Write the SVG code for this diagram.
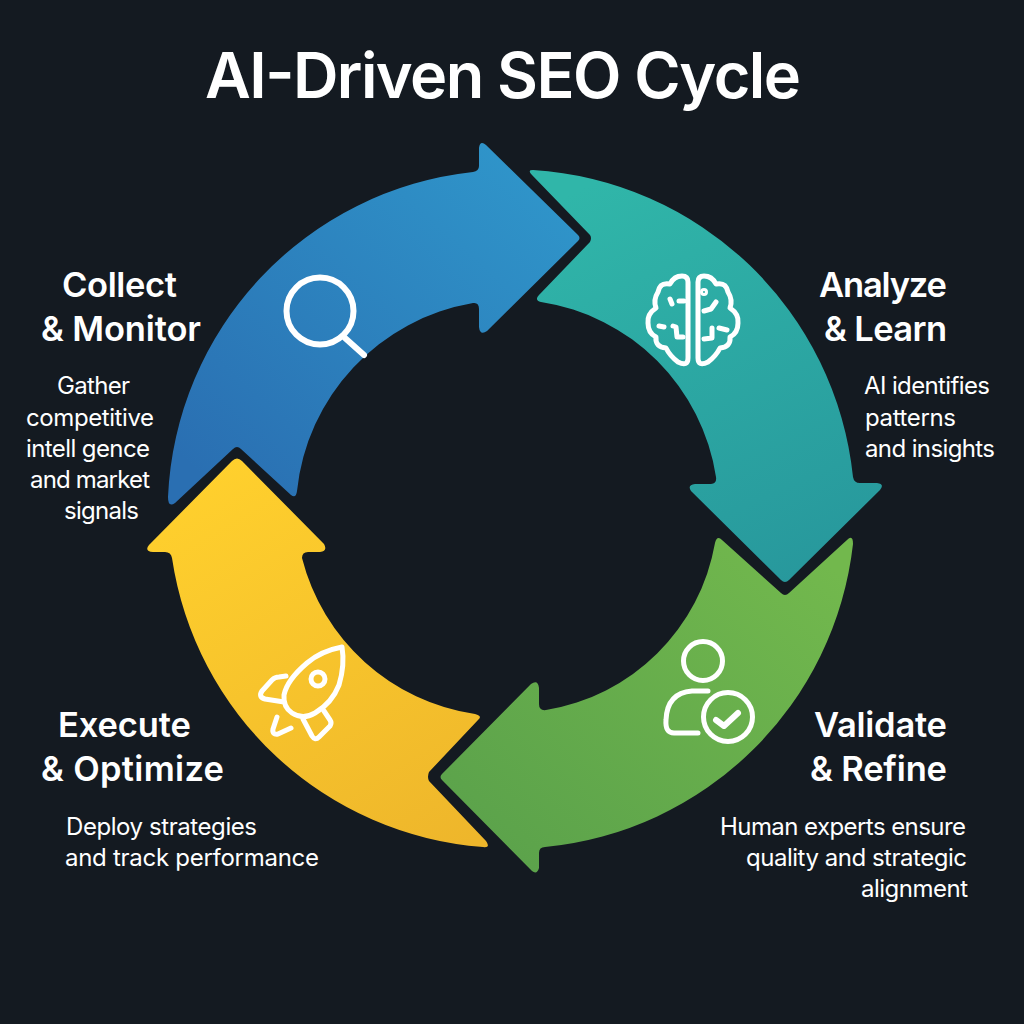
<svg xmlns="http://www.w3.org/2000/svg" width="1024" height="1024" viewBox="0 0 1024 1024">
<style>
.t{font-family:"Inter","Liberation Sans",sans-serif;fill:#fff}
.title{font-size:63px;font-weight:600}
.h{font-size:34.5px;font-weight:600}
.d{font-size:24px;font-weight:400}
.i{fill:none;stroke:#fff;stroke-width:5;stroke-linecap:round;stroke-linejoin:round}
</style>
<defs>
<linearGradient id="gb" gradientUnits="userSpaceOnUse" x1="520" y1="170" x2="230" y2="500"><stop offset="0" stop-color="#2f94c9"/><stop offset="1" stop-color="#2a6fb2"/></linearGradient>
<linearGradient id="gt" gradientUnits="userSpaceOnUse" x1="600" y1="180" x2="790" y2="600"><stop offset="0" stop-color="#30b6a9"/><stop offset="1" stop-color="#27979c"/></linearGradient>
<linearGradient id="gg" gradientUnits="userSpaceOnUse" x1="800" y1="540" x2="520" y2="860"><stop offset="0" stop-color="#72b84d"/><stop offset="1" stop-color="#5ca34b"/></linearGradient>
<linearGradient id="gy" gradientUnits="userSpaceOnUse" x1="230" y1="460" x2="460" y2="850"><stop offset="0" stop-color="#ffd02d"/><stop offset="1" stop-color="#eeb62b"/></linearGradient>
</defs>
<rect width="1024" height="1024" fill="#141a21"/>
<text class="t title" x="205" y="98" textLength="596">AI-Driven SEO Cycle</text>
<g id="connectors">
<path fill="url(#gb)" d="M168 497A342 342 0 0 1 473 172Q479 171 479 166L479 148Q480 140 486 145L578 235Q581 238 578 241L487 331Q480 336 479 327L479 309Q479 302 473 303A213 213 0 0 0 297 491Q296 499 291 495L241 449Q237 445 233 449L175 503Q168 508 168 497Z"/>
<path fill="url(#gt)" d="M533 170A343 343 0 0 1 853 477Q854 483 860 483L877 483Q885 484 880 490L789 580Q785 584 781 580L691 491Q687 485 695 484L711 484Q717 484 716 477A209 209 0 0 0 541 302Q534 300 539 295L590 242Q592 238 590 235L532 175Q527 170 533 170Z"/>
<path fill="url(#gg)" d="M853 544A343 343 0 0 1 545 847Q539 847 539 853L539 868Q537 875 532 871L442 780Q439 777 442 774L531 684Q538 679 539 688L539 704Q539 711 546 710A205 205 0 0 0 715 543Q717 535 722 540L781 593Q785 597 789 593L847 540Q853 534 853 544Z"/>
<path fill="url(#gy)" d="M483 847A340 340 0 0 1 172 558Q171 552 165 552L153 552Q144 551 149 545L232 461Q237 456 242 461L324 544Q328 551 320 552L308 552Q302 552 302 558A210 210 0 0 0 475 714Q483 716 478 720L429 772Q427 777 429 781L486 841Q491 848 483 847Z"/>
</g>
<g id="collect-monitor">
<circle class="i" cx="320" cy="311" r="33.5" style="stroke-width:6"/>
<path class="i" style="stroke-width:6" d="M345 338L364 355"/>
<text class="t h" x="62" y="297" textLength="115">Collect</text>
<text class="t h" x="41" y="341" textLength="160">&amp; Monitor</text>
<text class="t d" x="57" y="394" textLength="73">Gather</text>
<text class="t d" x="26" y="426" textLength="128">competitive</text>
<text class="t d" x="26" y="457" textLength="124">intell gence</text>
<text class="t d" x="30" y="488" textLength="120">and market</text>
<text class="t d" x="64" y="519" textLength="75">signals</text>
</g>
<g id="analyze-learn">
<path class="i" d="M688 282Q688 276 682 276Q674 276 670 284Q660 282 658 292Q653 300 656 308Q647 314 648 323Q648 333 656 337Q655 347 666 348Q670 356 678 362Q688 367 688 358Z"/>
<path class="i" d="M698 282Q698 276 704 276Q712 276 716 284Q726 282 728 292Q733 300 730 308Q739 314 738 323Q738 333 730 337Q731 347 720 348Q716 356 708 362Q698 367 698 358Z"/>
<path class="i" d="M670 299L672 304M679 301L684 301M659 326L664 327M673 326L676 327L677 337L683 337M704 311L711 309L716 302M712 328L712 338L704 339M719 328L727 330"/>
<circle class="i" cx="704" cy="292" r="2.5" style="stroke-width:3"/>
<text class="t h" x="819" y="297" textLength="128">Analyze</text>
<text class="t h" x="824" y="341" textLength="123">&amp; Learn</text>
<text class="t d" x="864" y="394" textLength="126">AI identifies</text>
<text class="t d" x="865" y="426" textLength="91">patterns</text>
<text class="t d" x="865" y="457" textLength="130">and insights</text>
</g>
<g id="validate-refine">
<circle class="i" cx="703" cy="661" r="19.5"/>
<path class="i" d="M708 691L692 691Q667 693 666 720Q665 733 674 733L698 733"/>
<circle class="i" cx="728" cy="717" r="24.5"/>
<path class="i" style="stroke-width:6" d="M716 720L724 726L738 713"/>
<text class="t h" x="814" y="737" textLength="133">Validate</text>
<text class="t h" x="810" y="781" textLength="137">&amp; Refine</text>
<text class="t d" x="720" y="835" textLength="246">Human experts ensure</text>
<text class="t d" x="746" y="866" textLength="221">quality and strategic</text>
<text class="t d" x="861" y="897" textLength="107">alignment</text>
</g>
<g id="execute-optimize">
<path class="i" d="M342 647Q321 651 307 663Q287 680 284 695Q283 707 292 713Q303 720 315 713Q332 703 339 685Q345 665 342 647Z"/>
<circle class="i" cx="318" cy="679" r="7"/>
<path class="i" d="M286 676L279 677Q275 677 272 680L262 691Q258 697 265 699L284 702M303 719L312 736Q315 741 319 737L330 726Q332 723 330 720L324 711M277 717L273 729Q272 735 278 734L291 728"/>
<text class="t h" x="58" y="737" textLength="133">Execute</text>
<text class="t h" x="41" y="781" textLength="183">&amp; Optimize</text>
<text class="t d" x="66" y="835" textLength="191">Deploy strategies</text>
<text class="t d" x="65" y="866" textLength="254">and track performance</text>
</g>
</svg>
